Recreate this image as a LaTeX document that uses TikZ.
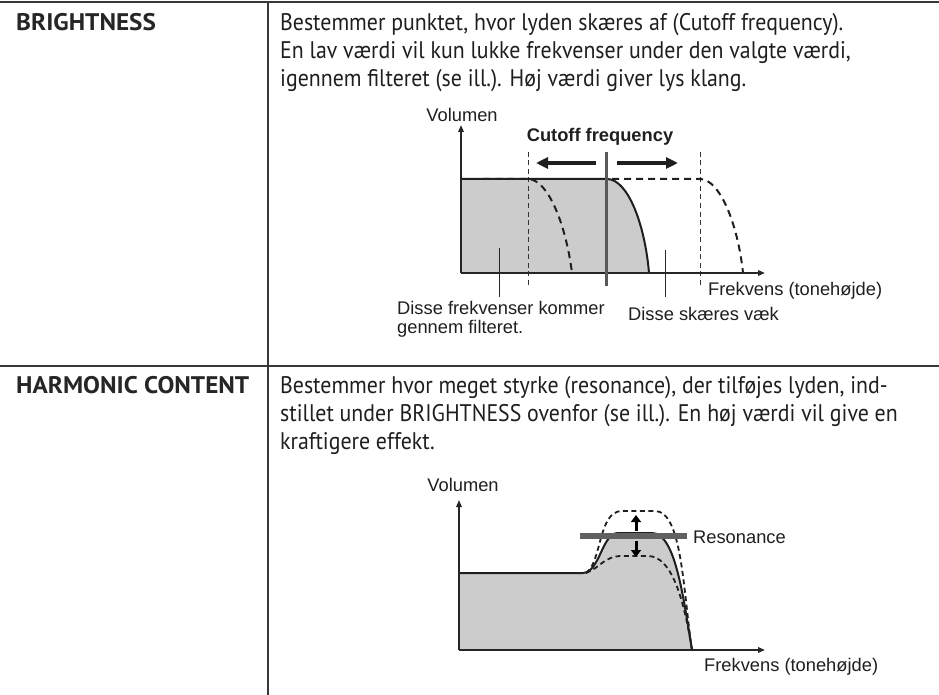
\documentclass[tikz,border=0pt]{standalone}
\usepackage{fontspec}
\setmainfont{Liberation Sans}
\newfontfamily\bodyfont{PT Sans}[FakeStretch=0.91]
\newfontfamily\headfont{PT Sans Bold}[FakeStretch=1.05]
\usetikzlibrary{arrows.meta}
\begin{document}
\begin{tikzpicture}[x=1pt,y=-1pt,
  rule/.style={draw=black!78,line width=2pt},
  body/.style={anchor=base west,inner sep=0pt,font=\bodyfont\fontsize{24}{28}\selectfont,text=black!88},
  head/.style={anchor=base west,inner sep=0pt,font=\headfont\fontsize{24}{28}\selectfont,text=black!85},
  ctext/.style={inner sep=0pt,font=\fontsize{18.3}{21}\selectfont,text=black!88},
  axis/.style={draw=black!85,line width=1.8pt,-{Triangle[length=7pt,width=5.5pt]}},
  curve/.style={draw=black!88,line width=2pt},
  dcurve/.style={draw=black!88,line width=2pt,dash pattern=on 7pt off 5pt},
  dcurveb/.style={draw=black!88,line width=1.8pt,dash pattern=on 5pt off 3.5pt},
  guide/.style={draw=black!80,line width=1pt,dash pattern=on 5pt off 3.5pt},
  leader/.style={draw=black!85,line width=1pt},
  shade/.style={fill=black!20},
  bigarrow/.style={draw=black!88,line width=3.2pt,-{Triangle[length=12pt,width=11pt]}},
  smallarrow/.style={draw=black,line width=3pt,-{Triangle[length=7pt,width=10pt]}},
]
\useasboundingbox (0,0) rectangle (939,695);
\fill[white] (0,0) rectangle (939,695);
% table rules
\coordinate (tl) at (0,2); \coordinate (tr) at (939,2);
\coordinate (ml) at (0,366); \coordinate (mr) at (939,366);
\coordinate (dt) at (268,2); \coordinate (db) at (268,695);
\draw[rule] (tl) -- (tr);
\draw[rule,line width=1.6pt] (ml) -- (mr);
\draw[rule,line width=1.6pt] (dt) -- (db);
% row 1 text
\node[head] (h1) at (16,31) {BRIGHTNESS};
\node[body] (b11) at (280,31) {Bestemmer punktet, hvor lyden skæres af (Cutoff frequency).};
\node[body] (b12) at (280,59) {En lav værdi vil kun lukke frekvenser under den valgte værdi,};
\node[body] (b13) at (280,87) {igennem filteret (se ill.). Høj værdi giver lys klang.};
% row 2 text
\node[head] (h2) at (16,393) {HARMONIC CONTENT};
\node[body] (b21) at (280,393) {Bestemmer hvor meget styrke (resonance), der tilføjes lyden, ind-};
\node[body] (b22) at (280,421) {stillet under BRIGHTNESS ovenfor (se ill.). En høj værdi vil give en};
\node[body] (b23) at (280,449) {kraftigere effekt.};
% ---------- chart 1 ----------
\fill[shade] (461,273) -- (461,179) -- (607,179) .. controls (628,179) and (645,225) .. (649,273) -- cycle;
\draw[guide] (528,152) -- (528,286);
\draw[guide] (700,152) -- (700,286);
\draw[curve] (461,179) -- (607,179) .. controls (628,179) and (645,225) .. (649,273);
\draw[dcurve] (483,179) -- (528,179) .. controls (548,179) and (566,225) .. (572,273);
\draw[dcurve] (612,179) -- (700,179) .. controls (720,179) and (738,225) .. (743,273);
\coordinate (o1) at (461,273);
\coordinate (y1) at (461,125);
\coordinate (x1) at (765,273);
\draw[axis] (o1) -- (y1);
\draw[axis] (o1) -- (x1);
\draw[draw=black!65,line width=3pt] (606,152) -- (606,286);
\draw[bigarrow] (596,163) -- (536,163);
\draw[bigarrow] (617,163) -- (678,163);
\node[ctext] (vol1) at (462,115) {Volumen};
\node[ctext,font=\bfseries\fontsize{18.3}{21}\selectfont] (cut) at (600,137) {Cutoff frequency};
\node[ctext,anchor=base west] (frk1) at (708,295) {Frekvens (tonehøjde)};
\node[ctext,anchor=base west] (pass) at (397,314) {Disse frekvenser kommer};
\node[ctext,anchor=base west] (pass2) at (397,333) {gennem filteret.};
\node[ctext,anchor=base west] (cutl) at (628,320) {Disse skæres væk};
\coordinate (l1a) at (499,248); \coordinate (l1b) at (499,297);
\coordinate (l2a) at (665,250); \coordinate (l2b) at (665,297);
\draw[leader] (l1a) -- (l1b);
\draw[leader] (l2a) -- (l2b);
% ---------- chart 2 ----------
\fill[shade] (459,650) -- (459,573) -- (583,573) .. controls (600,572) and (602,533) .. (618,533) -- (652,533) .. controls (675,533) and (683,595) .. (692,650) -- cycle;
\draw[curve] (459,573) -- (583,573) .. controls (600,572) and (602,533) .. (618,533) -- (652,533) .. controls (675,533) and (683,595) .. (692,650);
\draw[dcurveb] (586,573) .. controls (602,562) and (598,511) .. (622,511) -- (655,511) .. controls (682,511) and (683,590) .. (692,650);
\draw[dcurveb] (586,573) .. controls (600,568) and (604,556) .. (622,556) -- (648,556) .. controls (672,556) and (684,600) .. (692,650);
\draw[black!62,line width=5.5pt] (580,536) -- (687,536);
\draw[smallarrow] (636,531) -- (636,515);
\draw[smallarrow] (636,541) -- (636,557);
\coordinate (o2) at (459,650);
\coordinate (y2) at (459,500);
\coordinate (x2) at (765,650);
\draw[axis] (o2) -- (y2);
\draw[axis] (o2) -- (x2);
\node[ctext] (vol2) at (463,485) {Volumen};
\node[ctext,anchor=west] (res) at (693,537) {Resonance};
\node[ctext,anchor=base west] (frk2) at (704,671) {Frekvens (tonehøjde)};
\end{tikzpicture}
\end{document}
